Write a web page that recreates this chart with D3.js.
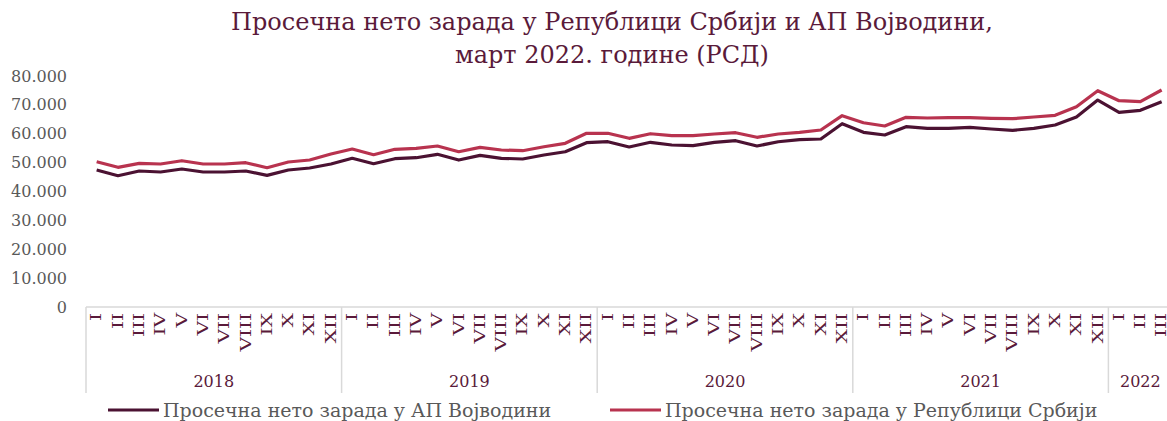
<!DOCTYPE html>
<html>
<head>
<meta charset="utf-8">
<script src="https://cdn.jsdelivr.net/npm/d3@7"></script>
<style>
  body { margin: 0; background: #fff; }
  text { font-family: "DejaVu Serif", serif; }
</style>
</head>
<body>
<div id="chart"></div>
<script>
// data
var monthLabels = ["I","II","III","IV","V","VI","VII","VIII","IX","X","XI","XII"];
var years = ["2018","2019","2020","2021","2022"];
var monthsPerYear = [12, 12, 12, 12, 3];
var vojvodina = [
  47450, 45470, 47100, 46750, 47790, 46750, 46750, 47100, 45600, 47450, 48140, 49520,
  51500, 49630, 51360, 51700, 52880, 50900, 52530, 51500, 51250, 52640, 53780, 56900,
  57240, 55410, 57040, 56100, 55860, 57040, 57590, 55750, 57240, 57940, 58180, 63480,
  60500, 59560, 62440, 61880, 61880, 62230, 61640, 61190, 61880, 63030, 65800, 71680,
  67420, 68120, 71100
];
var serbia = [
  50320, 48380, 49760, 49520, 50660, 49520, 49520, 49970, 48240, 50210, 50910, 52980,
  54720, 52740, 54610, 54960, 55750, 53780, 55300, 54370, 54130, 55510, 56690, 60150,
  60150, 58420, 60010, 59320, 59320, 59910, 60360, 58770, 59910, 60500, 61300, 66250,
  63820, 62680, 65690, 65450, 65560, 65560, 65350, 65210, 65800, 66390, 69360, 74900,
  71440, 71100, 75150
];
var yTicks = [0, 10000, 20000, 30000, 40000, 50000, 60000, 70000, 80000];
var titleLines = ["Просечна нето зарада у Републици Србији и АП Војводини,", "март 2022. године (РСД)"];
var seriesNames = ["Просечна нето зарада у АП Војводини", "Просечна нето зарада у Републици Србији"];

var colors = ["#4b1232", "#b8334f"],
    titleColor = "#5a1a3a",
    grey = "#595959";

var width = 1167, height = 421;
var left = 86, axisY = 307, topY = 76, catW = 21.3;

// build category list
var cats = [];
years.forEach(function(y, yi){
  for (var m = 0; m < monthsPerYear[yi]; m++) cats.push({year: y, month: monthLabels[m], key: y + "-" + m});
});

var svg = d3.select("#chart").append("svg")
  .attr("width", width)
  .attr("height", height);

var x = d3.scaleBand()
  .domain(cats.map(function(d){ return d.key; }))
  .range([left, left + cats.length * catW]);

var y = d3.scaleLinear()
  .domain([0, 80000])
  .range([axisY, topY]);

var loc = d3.formatLocale({decimal: ",", thousands: ".", grouping: [3], currency: ["", ""]});
var fmt = loc.format(",");

// title
svg.selectAll(".title")
  .data(titleLines)
  .enter().append("text")
    .attr("x", 612)
    .attr("y", function(d, i){ return 30 + i * 33; })
    .attr("text-anchor", "middle")
    .style("font-size", "24px")
    .style("fill", titleColor)
    .text(function(d){ return d; });

// y labels
svg.selectAll(".ylab")
  .data(yTicks)
  .enter().append("text")
    .attr("x", 67)
    .attr("y", function(d){ return y(d); })
    .attr("dy", "0.35em")
    .attr("text-anchor", "end")
    .style("font-size", "16px")
    .style("fill", grey)
    .text(function(d){ return fmt(d); });

// category axis line
svg.append("line")
  .attr("x1", left).attr("x2", width)
  .attr("y1", axisY).attr("y2", axisY)
  .style("stroke", "#d9d9d9")
  .style("stroke-width", 1.5);

// year separators
var bounds = [0];
monthsPerYear.reduce(function(a, n){ bounds.push(a + n); return a + n; }, 0);
svg.selectAll(".sep")
  .data(bounds)
  .enter().append("line")
    .attr("x1", function(d){ return left + d * x.step(); })
    .attr("x2", function(d){ return left + d * x.step(); })
    .attr("y1", axisY).attr("y2", 393)
    .style("stroke", "#d9d9d9")
    .style("stroke-width", 1.5);

// month labels (vertical, wide serif look)
svg.selectAll(".mlab")
  .data(cats)
  .enter().append("text")
    .attr("transform", function(d){ return "translate(" + (x(d.key) + x.bandwidth() / 2 - 0.5) + "," + 313 + ") rotate(-90) scale(1.35,1)"; })
    .attr("dy", "0.35em")
    .attr("text-anchor", "end")
    .style("font-size", "15px")
    .style("fill", titleColor)
    .text(function(d){ return d.month; });

// year labels
svg.selectAll(".ylabel")
  .data(years)
  .enter().append("text")
    .attr("x", function(d, i){ return left + (bounds[i] + bounds[i + 1]) / 2 * x.step(); })
    .attr("y", 387)
    .attr("text-anchor", "middle")
    .style("font-size", "16px")
    .style("fill", titleColor)
    .text(function(d){ return d; });

// lines
var line = d3.line()
  .x(function(d, i){ return x(cats[i].key) + x.bandwidth() / 2; })
  .y(function(d){ return y(d); });

[vojvodina, serbia].forEach(function(s, i){
  svg.append("path")
    .datum(s)
    .attr("d", line)
    .style("fill", "none")
    .style("stroke", colors[i])
    .style("stroke-width", 3.2)
    .style("stroke-linejoin", "round");
});

// legend
var legendX = [108, 610];
var lg = svg.selectAll(".legend")
  .data(seriesNames)
  .enter().append("g")
    .attr("transform", function(d, i){ return "translate(" + legendX[i] + ",410)"; });
lg.append("line")
  .attr("x1", 0).attr("x2", 51)
  .attr("y1", 0).attr("y2", 0)
  .style("stroke", function(d, i){ return colors[i]; })
  .style("stroke-width", 3);
lg.append("text")
  .attr("x", 55)
  .attr("dy", "0.35em")
  .style("font-size", "19px")
  .style("fill", grey)
  .text(function(d){ return d; });
</script>
</body>
</html>
